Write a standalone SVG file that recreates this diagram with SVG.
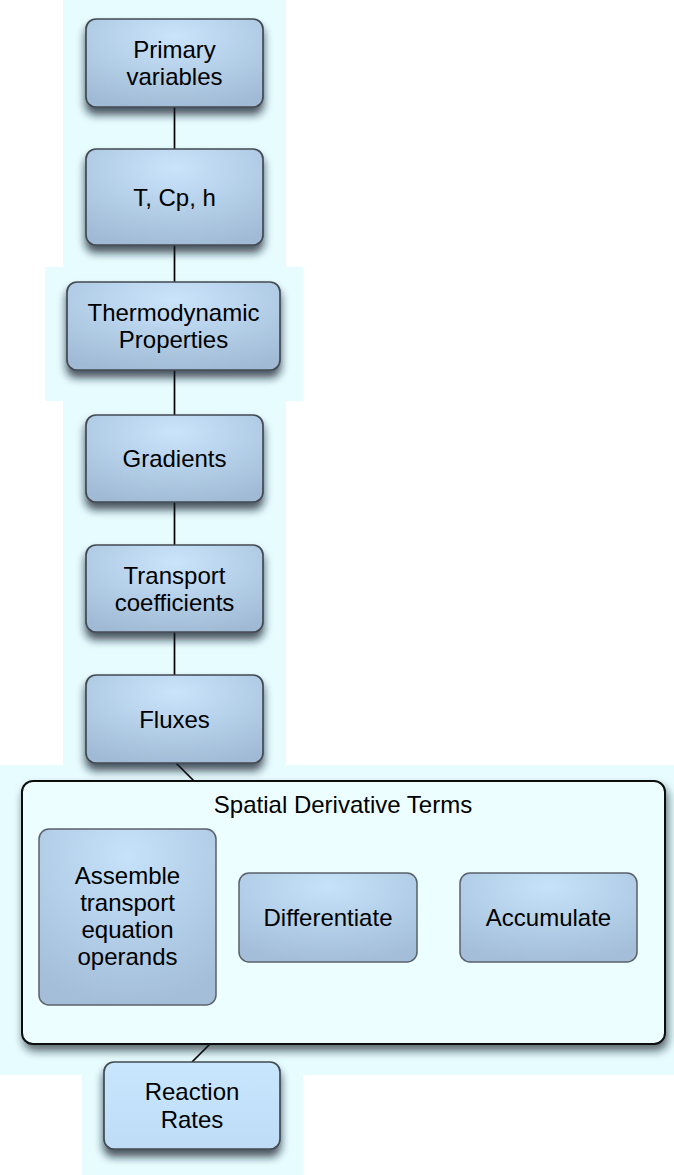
<svg xmlns="http://www.w3.org/2000/svg" width="674" height="1175" viewBox="0 0 674 1175">
  <defs>
    <radialGradient id="nodeFill" cx="0.5" cy="0.2" r="0.85">
      <stop offset="0" stop-color="#c9e4fb"/>
      <stop offset="1" stop-color="#a0bad5"/>
    </radialGradient>
    <radialGradient id="innerFill" cx="0.5" cy="0.15" r="0.85">
      <stop offset="0" stop-color="#c6e2fa"/>
      <stop offset="1" stop-color="#a4bed9"/>
    </radialGradient>
    <linearGradient id="lightFill" x1="0" y1="0" x2="0" y2="1">
      <stop offset="0" stop-color="#c8e6fd"/>
      <stop offset="1" stop-color="#bedcf6"/>
    </linearGradient>
    <filter id="shadow" x="-20%" y="-20%" width="140%" height="160%">
      <feDropShadow dx="0" dy="7" stdDeviation="4" flood-color="#151c28" flood-opacity="0.75"/>
    </filter>
    <filter id="boxShadow" x="-5%" y="-5%" width="110%" height="115%">
      <feDropShadow dx="2" dy="6" stdDeviation="4" flood-color="#151c28" flood-opacity="0.65"/>
    </filter>
  </defs>
  <style>
    .bg { fill: #e6fcff; }
    .node { fill: url(#nodeFill); stroke: #434952; stroke-width: 1.7; filter: url(#shadow); }
    .light { fill: url(#lightFill); stroke: #434952; stroke-width: 1.7; filter: url(#shadow); }
    .inner { fill: url(#innerFill); stroke: #5a616a; stroke-width: 1.5; }
    .frame { fill: #ecfeff; stroke: #111; stroke-width: 2; filter: url(#boxShadow); }
    .edge { stroke: #000; stroke-width: 1.7; fill: none; }
    text { font-family: "Liberation Sans", Arial, Helvetica, sans-serif; font-size: 24px; fill: #000; text-anchor: middle; }
  </style>

  <rect width="674" height="1175" fill="#ffffff"/>

  <!-- pale backdrop panels -->
  <g id="backdrop">
    <rect class="bg" x="63" y="0" width="223" height="267"/>
    <rect class="bg" x="45" y="267" width="258" height="134"/>
    <rect class="bg" x="63" y="401" width="223" height="364"/>
    <rect class="bg" x="0" y="765" width="674" height="310"/>
    <rect class="bg" x="82" y="1075" width="221" height="100"/>
  </g>

  <!-- connectors -->
  <g id="connectors">
    <line class="edge" x1="174.5" y1="107" x2="174.5" y2="149"/>
    <line class="edge" x1="174.5" y1="245" x2="174.5" y2="282"/>
    <line class="edge" x1="174.5" y1="370" x2="174.5" y2="415"/>
    <line class="edge" x1="174.5" y1="502" x2="174.5" y2="545"/>
    <line class="edge" x1="174.5" y1="632" x2="174.5" y2="675"/>
    <line class="edge" x1="176" y1="763" x2="194" y2="781"/>
    <line class="edge" x1="210" y1="1044" x2="192" y2="1062"/>
  </g>

  <g id="primary-variables">
    <rect class="node" x="86" y="19" width="177" height="88" rx="10"/>
    <text x="174.5" y="58">Primary</text>
    <text x="174.5" y="85">variables</text>
  </g>

  <g id="t-cp-h">
    <rect class="node" x="86" y="149" width="177" height="96" rx="10"/>
    <text x="174.5" y="206">T, Cp, h</text>
  </g>

  <g id="thermodynamic-properties">
    <rect class="node" x="67" y="282" width="213" height="88" rx="10"/>
    <text x="173.5" y="321">Thermodynamic</text>
    <text x="173.5" y="348">Properties</text>
  </g>

  <g id="gradients">
    <rect class="node" x="86" y="415" width="177" height="87" rx="10"/>
    <text x="174.5" y="467">Gradients</text>
  </g>

  <g id="transport-coefficients">
    <rect class="node" x="86" y="545" width="177" height="87" rx="10"/>
    <text x="174.5" y="584">Transport</text>
    <text x="174.5" y="611">coefficients</text>
  </g>

  <g id="fluxes">
    <rect class="node" x="86" y="675" width="177" height="88" rx="10"/>
    <text x="174.5" y="728">Fluxes</text>
  </g>

  <g id="spatial-derivative-terms">
    <rect class="frame" x="22" y="781" width="643" height="263" rx="11"/>
    <text x="343" y="813">Spatial Derivative Terms</text>
  </g>

  <g id="assemble-operands">
    <rect class="inner" x="39" y="829" width="177" height="176" rx="10"/>
    <text x="127.5" y="884">Assemble</text>
    <text x="127.5" y="911">transport</text>
    <text x="127.5" y="938">equation</text>
    <text x="127.5" y="965">operands</text>
  </g>

  <g id="differentiate">
    <rect class="inner" x="239" y="873" width="178" height="89" rx="10"/>
    <text x="328" y="926">Differentiate</text>
  </g>

  <g id="accumulate">
    <rect class="inner" x="460" y="873" width="177" height="89" rx="10"/>
    <text x="548.5" y="926">Accumulate</text>
  </g>

  <g id="reaction-rates">
    <rect class="light" x="104" y="1062" width="176" height="87" rx="10"/>
    <text x="192" y="1100">Reaction</text>
    <text x="192" y="1128">Rates</text>
  </g>
</svg>
